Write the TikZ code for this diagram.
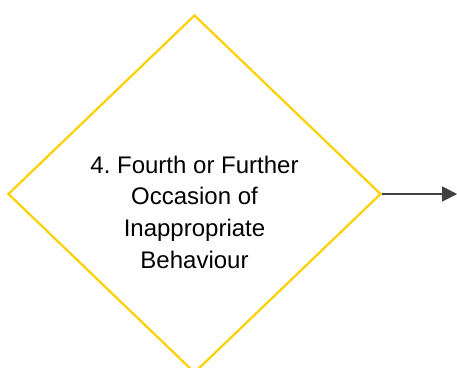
\documentclass[tikz,border=0pt]{standalone}
\usepackage{fontspec}
\setmainfont{Liberation Sans}
\usepackage{xcolor}
\usetikzlibrary{positioning, arrows.meta, shapes.geometric}
\definecolor{decyellow}{HTML}{FFD000}
\definecolor{arrgray}{HTML}{404040}
\frenchspacing

\begin{document}
\begin{tikzpicture}
			[node distance=75pt, x=1pt, y=1pt]
			\useasboundingbox (0,0) rectangle (457,367);
			\clip (0,0) rectangle (457,367);
			% nodes %
			\node[diamond, draw=decyellow, line width=2.2pt, minimum width=373pt, minimum height=358pt, inner sep=0pt] (dec) at (194.5,173) {};
			\node[align=center, inner sep=0pt, font=\fontsize{24}{31.7}\selectfont] (lbl) at (194.5,155) {4. Fourth or Further\\Occasion of\\Inappropriate\\Behaviour};
			\coordinate[right=75pt of dec.east] (out);

			% edges %
			\draw[-{Triangle[length=15pt, width=15pt]}, arrgray, line width=1.3pt] (dec.east) -- (out);
			\end{tikzpicture}
\end{document}
